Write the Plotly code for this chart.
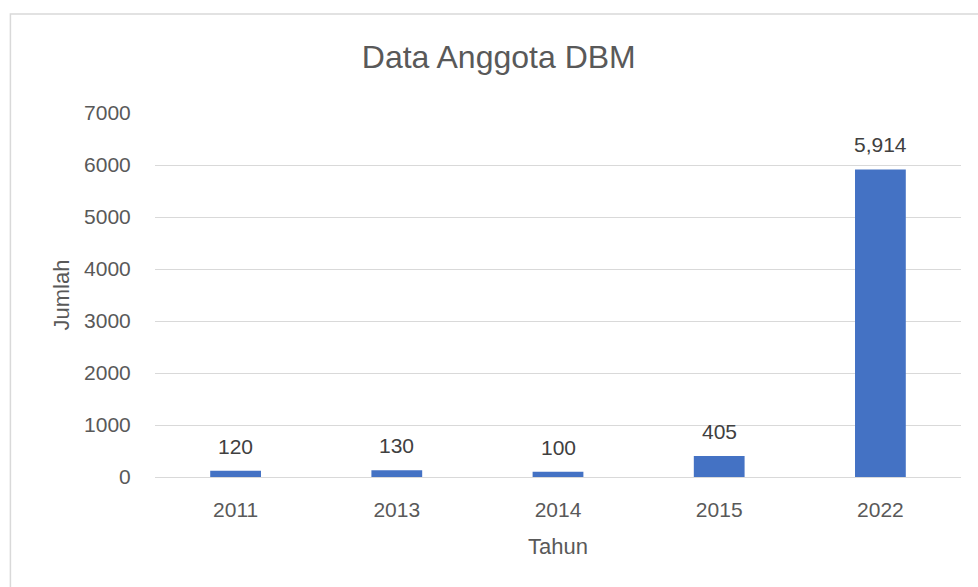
import plotly.graph_objects as go

categories = ["2011", "2013", "2014", "2015", "2022"]
values = [120, 130, 100, 405, 5914]
value_labels = ["120", "130", "100", "405", "5,914"]
y_ticks = [0, 1000, 2000, 3000, 4000, 5000, 6000, 7000]

FONT = "Liberation Sans"
GRAY = "#595959"

fig = go.Figure()
fig.add_trace(go.Bar(x=categories, y=values, marker=dict(color="#4472C4", line=dict(width=0)),
                     text=value_labels, textposition="none"))

for i, (v, t) in enumerate(zip(values, value_labels)):
    fig.add_annotation(x=i, y=v, xref="x", yref="y", text=t, showarrow=False, yanchor="bottom", yshift=11,
                       font=dict(family=FONT, size=21, color="#404040"))

fig.update_layout(
    width=978, height=587,
    margin=dict(l=155, r=17, t=113, b=110, autoexpand=False),
    paper_bgcolor="white", plot_bgcolor="white",
    bargap=0.685,
    showlegend=False,
    title=dict(text="Data Anggota DBM", x=0.510, xref="container", xanchor="center",
               y=0.903, yref="container", yanchor="middle",
               font=dict(family=FONT, size=32, color=GRAY)),
    font=dict(family=FONT, color=GRAY),
)
fig.update_yaxes(range=[0, 7000], tickvals=y_ticks, showgrid=True, gridcolor="#d9d9d9", gridwidth=1,
                 zeroline=True, zerolinecolor="#d9d9d9", zerolinewidth=1,
                 ticks="outside", ticklen=19, tickcolor="rgba(0,0,0,0)",
                 tickfont=dict(family=FONT, size=21, color=GRAY),
                 title=dict(text="Jumlah", font=dict(family=FONT, size=22, color=GRAY), standoff=8))
fig.update_xaxes(type="category", range=[-0.5, len(categories) - 0.5],
                 showline=False, ticks="outside", ticklen=14, tickcolor="rgba(0,0,0,0)",
                 tickfont=dict(family=FONT, size=21, color=GRAY),
                 title=dict(text="Tahun", font=dict(family=FONT, size=22, color=GRAY), standoff=18))

fig.add_shape(type="rect", xref="paper", yref="paper", x0=-0.1794, x1=1.2, y0=-0.5, y1=1.2722,
              line=dict(color="#d9d9d9", width=1.5), layer="below")

fig.write_html("out.html", config={"displayModeBar": False},
               post_script="document.body.style.margin='0';document.body.style.overflow='hidden';")
